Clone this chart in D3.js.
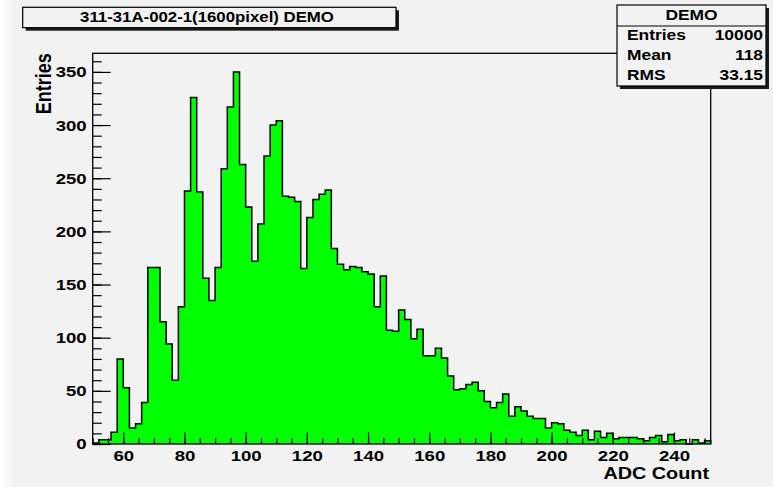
<!DOCTYPE html>
<html>
<head>
<meta charset="utf-8">
<script src="https://cdn.jsdelivr.net/npm/d3@7"></script>
<style>
  body { margin: 0; background: #f2f2f2; }
  svg { display: block; }
  text { font-family: "Liberation Sans", Arial, sans-serif; font-weight: bold; fill: #000; }
</style>
</head>
<body>
<svg id="chart" width="773" height="487"></svg>
<script>
// Histogram: 101 bins, width 2, starting at 50 (ADC counts)
var binLow = 50;
var binWidth = 2;
var counts = [
  1, 4, 4, 11, 80, 53, 15, 19, 39, 166,
  166, 115, 94, 60, 129, 238, 326, 237, 156, 135,
  166, 259, 317, 350, 263, 223, 172, 207, 271, 300,
  304, 233, 232, 228, 165, 213, 230, 235, 239, 184,
  169, 164, 167, 166, 162, 160, 129, 158, 107, 106,
  126, 117, 99, 108, 83, 83, 90, 81, 64, 51,
  52, 56, 58, 50, 40, 34, 39, 47, 26, 35,
  31, 26, 24, 24, 15, 20, 19, 13, 11, 8,
  13, 4, 12, 6, 10, 5, 6, 6, 6, 5,
  3, 6, 8, 2, 9, 3, 4, 0, 4, 1,
  3
];

var titleText = "311-31A-002-1(1600pixel) DEMO";
var statsName = "DEMO";
var statsLabels = ["Entries", "Mean", "RMS"];
var statsValues = ["10000", "118", "33.15"];

var xMajorTicks = [60, 80, 100, 120, 140, 160, 180, 200, 220, 240];
var xMinorTicks = d3.range(50, 251, 5);
var yMajorTicks = [0, 50, 100, 150, 200, 250, 300, 350];
var yMinorTicks = d3.range(0, 361, 10);
var xTitle = "ADC Count";
var yTitle = "Entries";

// the picture is a little wider than it is tall, so text is stretched sideways
var sx = 1.2;

var svg = d3.select("#chart");

// frame of the pad
var frame = { left: 92.7, right: 710.7, top: 53.3, bottom: 444 };

var xMax = binLow + binWidth * counts.length;
var x = d3.scaleLinear().domain([binLow, xMax]).range([frame.left, frame.right]);
var y = d3.scaleLinear().domain([0, d3.max(counts) * 1.05]).range([frame.bottom, frame.top]);

// light strip on the left of the canvas
var grad = svg.append("defs").append("linearGradient").attr("id", "leftfade");
grad.append("stop").attr("offset", "0").attr("stop-color", "#ffffff");
grad.append("stop").attr("offset", "1").attr("stop-color", "#f2f2f2");
svg.append("rect").attr("x", 0).attr("y", 0).attr("width", 16).attr("height", 487)
  .attr("fill", "url(#leftfade)");

// step points, closed down to zero at both ends
var pts = [{ x: binLow, v: 0 }];
counts.forEach(function (c, i) {
  pts.push({ x: binLow + i * binWidth, v: c });
});
pts.push({ x: xMax, v: counts[counts.length - 1] });
pts.push({ x: xMax, v: 0 });

var area = d3.area()
  .curve(d3.curveStepAfter)
  .x(d => x(d.x))
  .y0(y(0))
  .y1(d => y(d.v));

var line = d3.line()
  .curve(d3.curveStepAfter)
  .x(d => x(d.x))
  .y(d => y(d.v));

svg.append("path")
  .datum(pts)
  .attr("d", area)
  .attr("fill", "#00ff00");

svg.append("path")
  .datum(pts)
  .attr("d", line)
  .attr("fill", "none")
  .attr("stroke", "#000")
  .attr("stroke-width", 1.5);

// axes: ticks point inward like ROOT
var xAxisMinor = d3.axisBottom(x).tickValues(xMinorTicks).tickSize(-5.7).tickFormat("");
var xAxisMajor = d3.axisBottom(x).tickValues(xMajorTicks).tickSize(-11.5).tickPadding(6.5)
  .tickFormat(d3.format("d"));
var yAxisMinor = d3.axisLeft(y).tickValues(yMinorTicks).tickSize(-9).tickFormat("");
var yAxisMajor = d3.axisLeft(y).tickValues(yMajorTicks).tickSize(-18).tickPadding(5)
  .tickFormat(d3.format("d"));

function styleAxis(g) {
  g.select(".domain").remove();
  g.selectAll(".tick line").attr("stroke", "#000").attr("stroke-width", 1.2);
  g.selectAll(".tick text")
    .attr("font-family", null)
    .style("font-size", "15.5px")
    .attr("transform", `scale(${sx},1)`);
}

svg.append("g").attr("transform", `translate(0,${frame.bottom})`).call(xAxisMinor).call(styleAxis);
svg.append("g").attr("transform", `translate(0,${frame.bottom})`).call(xAxisMajor).call(styleAxis);
svg.append("g").attr("transform", `translate(${frame.left},0)`).call(yAxisMinor).call(styleAxis);
svg.append("g").attr("transform", `translate(${frame.left},0)`).call(yAxisMajor).call(styleAxis);

// pad frame
svg.append("rect")
  .attr("x", frame.left)
  .attr("y", frame.top)
  .attr("width", frame.right - frame.left)
  .attr("height", frame.bottom - frame.top)
  .attr("fill", "none")
  .attr("stroke", "#000")
  .attr("stroke-width", 1.3);

function stext(px, py, str, size, anchor) {
  return svg.append("text")
    .attr("transform", `translate(${px},${py}) scale(${sx},1)`)
    .attr("text-anchor", anchor)
    .style("font-size", size + "px")
    .text(str);
}

// axis titles
stext(709, 479, xTitle, 16.5, "end");
svg.append("text")
  .attr("transform", `translate(50.5,${frame.top}) scale(${sx},1) rotate(-90)`)
  .attr("text-anchor", "end")
  .style("font-size", "18px")
  .text(yTitle);

// box with ROOT style drop shadow
function shadowBox(bx, by, bw, bh) {
  svg.append("rect").attr("x", bx + 3).attr("y", by + 3).attr("width", bw).attr("height", bh)
    .attr("fill", "#1a1a1a");
  svg.append("rect").attr("x", bx).attr("y", by).attr("width", bw).attr("height", bh)
    .attr("fill", "#f2f2f2").attr("stroke", "#000").attr("stroke-width", 1.2);
}

// title
shadowBox(22.7, 7.3, 373.3, 20.4);
stext(207, 22, titleText, 14, "middle");

// stats box
var st = { left: 617, right: 766, top: 5, bottom: 86 };
shadowBox(st.left, st.top, st.right - st.left, st.bottom - st.top);
svg.append("line")
  .attr("x1", st.left).attr("x2", st.right)
  .attr("y1", 26).attr("y2", 26)
  .attr("stroke", "#000").attr("stroke-width", 1.2);
stext((st.left + st.right) / 2, 19.5, statsName, 14.5, "middle");
statsLabels.forEach(function (lab, i) {
  stext(627, 40 + i * 20, lab, 14.5, "start");
  stext(763, 40 + i * 20, statsValues[i], 14.5, "end");
});
</script>
</body>
</html>
